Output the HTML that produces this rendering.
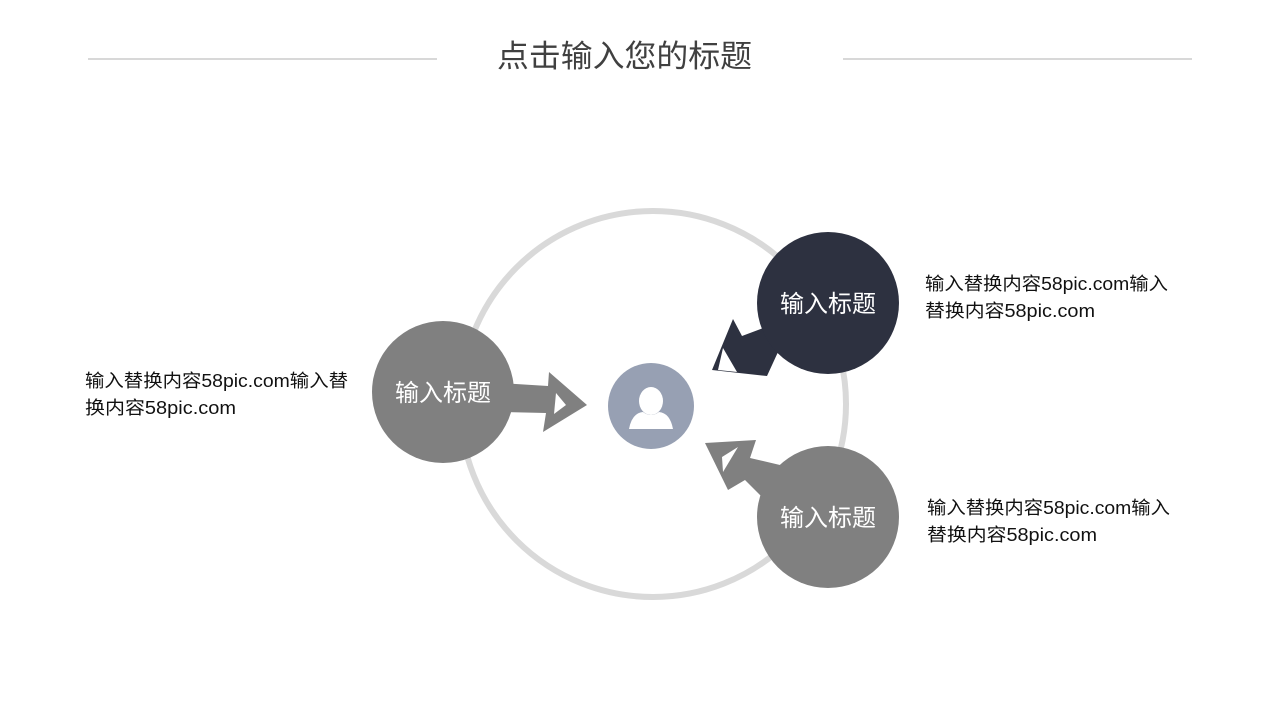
<!DOCTYPE html>
<html><head><meta charset="utf-8"><style>
html,body{margin:0;padding:0;background:#fff;width:1280px;height:720px;overflow:hidden}
svg{display:block}
text{font-family:"Liberation Sans","Noto Sans CJK SC",sans-serif}
</style></head><body>
<svg width="1280" height="720" viewBox="0 0 1280 720">
<line x1="88" y1="59" x2="437" y2="59" stroke="#b0b0b0" stroke-width="1"/>
<line x1="843" y1="59" x2="1192" y2="59" stroke="#b0b0b0" stroke-width="1"/>
<text x="497" y="67" font-size="31" fill="#404040" textLength="255" lengthAdjust="spacingAndGlyphs">点击输入您的标题</text>

<circle cx="653" cy="404" r="193" fill="none" stroke="#d9d9d9" stroke-width="6"/>

<polygon points="500,383 548,386 549,372 587,405 543,432 546,413 500,412" fill="#808080"/>
<polygon points="556,393 566,405 554,414" fill="#fff"/>
<polygon points="805,340 778,352 767,376 712,370 733,319 742,336 795,316" fill="#2d3140"/>
<polygon points="723,348 737,372 718,370" fill="#fff"/>
<polygon points="790,475 770,505 745,480 728,490 705,443 756,440 750,458 780,465" fill="#808080"/>
<polygon points="738,447 723,472 722,457" fill="#fff"/>

<circle cx="443" cy="392" r="71" fill="#808080"/>
<circle cx="828" cy="303" r="71" fill="#2d3140"/>
<circle cx="828" cy="517" r="71" fill="#808080"/>
<text x="443" y="401" font-size="24" fill="#fff" text-anchor="middle">输入标题</text>
<text x="828" y="312" font-size="24" fill="#fff" text-anchor="middle">输入标题</text>
<text x="828" y="526" font-size="24" fill="#fff" text-anchor="middle">输入标题</text>

<circle cx="651" cy="406" r="43" fill="#97a0b3"/>
<ellipse cx="651" cy="401" rx="12" ry="14" fill="#fff"/>
<path d="M629,429 Q632,413 643,412 Q651,418 659,412 Q670,413 673,429 Z" fill="#fff"/>

<g font-size="18" fill="#111">
<text x="85" y="387" textLength="263" lengthAdjust="spacingAndGlyphs">输入替换内容58pic.com输入替</text>
<text x="85" y="414" textLength="151" lengthAdjust="spacingAndGlyphs">换内容58pic.com</text>
<text x="925" y="290" textLength="243" lengthAdjust="spacingAndGlyphs">输入替换内容58pic.com输入</text>
<text x="925" y="317" textLength="170" lengthAdjust="spacingAndGlyphs">替换内容58pic.com</text>
<text x="927" y="514" textLength="243" lengthAdjust="spacingAndGlyphs">输入替换内容58pic.com输入</text>
<text x="927" y="541" textLength="170" lengthAdjust="spacingAndGlyphs">替换内容58pic.com</text>
</g>
</svg>
</body></html>
